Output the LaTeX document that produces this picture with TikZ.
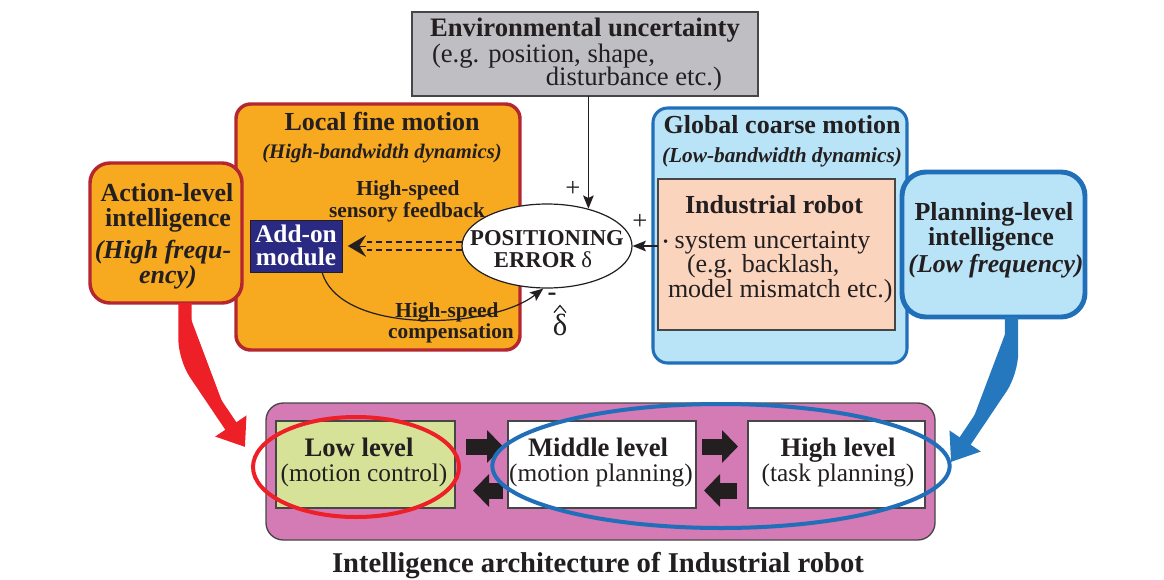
\documentclass[tikz,border=0pt]{standalone}
\usepackage{fontspec}
\setmainfont{Liberation Serif}
\usetikzlibrary{arrows.meta,fit,shapes.geometric,calc}
\newcommand\fsz[1]{\fontsize{#1}{#1}\selectfont}
\definecolor{orangefill}{RGB}{247,169,32}
\definecolor{darkred}{RGB}{180,38,48}
\definecolor{lightblue}{RGB}{185,227,247}
\definecolor{midblue}{RGB}{33,111,185}
\definecolor{peach}{RGB}{251,212,190}
\definecolor{grayfill}{RGB}{190,190,195}
\definecolor{purplefill}{RGB}{212,122,180}
\definecolor{greenfill}{RGB}{214,226,152}
\definecolor{navy}{RGB}{42,42,130}
\definecolor{redarrow}{RGB}{236,32,38}
\definecolor{bluearrow}{RGB}{38,120,190}
\definecolor{textcol}{RGB}{35,31,32}
\definecolor{edgegray}{RGB}{70,70,70}
\begin{document}
\begin{tikzpicture}[x=0.75pt,y=-0.75pt,
  every node/.style={text=textcol},
  txt/.style={anchor=base, inner sep=0, outer sep=0},
  bxt/.style={txt, font=\bfseries\fsz{19}},
  rgt/.style={txt, font=\fsz{19.5}},
  bit/.style={txt, font=\bfseries\itshape\fsz{19}},
  boxfit/.style={inner sep=0, outer sep=0},
  thinarrow/.style={draw=textcol, line width=0.9pt, -{Stealth[length=10pt,width=8pt,inset=2pt]}},
  dashline/.style={draw=textcol, line width=0.9pt, dash pattern=on 4.5pt off 3pt},
  blk/.style={draw=textcol, line width=12pt, -{Triangle[length=12pt,width=24pt]}},
  bigarrow/.style={line width=10pt, rounded corners=14pt, -{Triangle[length=19pt,width=27pt]}}
]
\useasboundingbox (0,0) rectangle (1164,579);

% environmental uncertainty
\node[boxfit, fit={(412,12)(758,96)}, draw=edgegray, line width=1pt, fill=grayfill] (env) {};
\node[bxt, font=\bfseries\fsz{20}] (envt) at (585,36) {Environmental uncertainty};
\node[txt, anchor=base west, font=\fsz{20}] (enva) at (432,62) {(e.g. position, shape,};
\node[txt, anchor=base east, font=\fsz{20}] (envb) at (722,85) {disturbance etc.)};

% local fine motion
\node[boxfit, fit={(236,104)(520,350)}, draw=darkred, line width=2.6pt, fill=orangefill, rounded corners=11pt] (local) {};
\node[bxt, font=\bfseries\fsz{19.5}] (localt) at (382,130) {Local fine motion};
\node[bit, font=\bfseries\itshape\fsz{15.5}] (locals) at (382,158) {(High-bandwidth dynamics)};
\node[bxt, font=\bfseries\fsz{16}] (hs1) at (408,195) {High-speed};
\node[bxt, font=\bfseries\fsz{16}] (hs2) at (407,217) {sensory feedback};
\node[bxt, font=\bfseries\fsz{16}] (hc1) at (447,317) {High-speed};
\node[bxt, font=\bfseries\fsz{16}] (hc2) at (451,338) {compensation};

% action-level
\node[boxfit, fit={(90,163)(242,303)}, draw=darkred, line width=2.6pt, fill=orangefill, rounded corners=15pt] (action) {};
\node[bxt, font=\bfseries\fsz{19.5}] (act1) at (167,201) {Action-level};
\node[bxt, font=\bfseries\fsz{19.5}] (act2) at (168,226) {intelligence};
\node[bit, font=\bfseries\itshape\fsz{19.5}] (act3) at (163,258) {(High frequ-};
\node[bit, font=\bfseries\itshape\fsz{19.5}] (act4) at (168,283) {ency)};

% add-on module
\node[boxfit, fit={(250,220)(342,272)}, draw=textcol, line width=0.6pt, fill=navy] (addon) {};
\node[bxt, text=white, font=\bfseries\fsz{19}] (add1) at (296,242) {Add-on};
\node[bxt, text=white, font=\bfseries\fsz{19}] (add2) at (296,265) {module};

% global coarse motion
\node[boxfit, fit={(653,108)(907,363)}, draw=midblue, line width=2.3pt, fill=lightblue, rounded corners=11pt] (global) {};
\node[bxt, font=\bfseries\fsz{19.5}] (globt) at (782,133) {Global coarse motion};
\node[bit, font=\bfseries\itshape\fsz{16}] (globs) at (782,162) {(Low-bandwidth dynamics)};
\node[boxfit, fit={(658,179)(895,330)}, draw=edgegray, line width=0.9pt, fill=peach] (robot) {};
\node[bxt, font=\bfseries\fsz{19.5}] (robt) at (774,213) {Industrial robot};
\node[rgt, anchor=base west] (rob1) at (663,248) {\raisebox{1.5pt}{\fsz{11}•} system uncertainty};
\node[rgt, anchor=base west] (rob2) at (687,272) {(e.g. backlash,};
\node[rgt, anchor=base west] (rob3) at (668,297) {model mismatch etc.)};

% planning-level
\node[boxfit, fit={(902,172)(1085,317)}, draw=midblue, line width=3.7pt, fill=lightblue, rounded corners=18pt] (plan) {};
\node[bxt, font=\bfseries\fsz{19.5}] (pl1) at (994,220) {Planning-level};
\node[bxt, font=\bfseries\fsz{19.5}] (pl2) at (991,245) {intelligence};
\node[bit, font=\bfseries\itshape\fsz{19.3}] (pl3) at (996,272) {(Low frequency)};

% positioning error
\node[ellipse, draw=textcol, line width=0.9pt, fill=white, inner sep=0, minimum width=127.5pt, minimum height=63pt] (pos) at (547,246) {};
\node[bxt, font=\bfseries\fsz{17}] (pos1) at (547,245) {POSITIONING};
\node[bxt, font=\bfseries\fsz{17}] (pos2) at (543,267) {ERROR {\mdseries δ}};

% connectors around the ellipse
\draw[thinarrow] (env.south -| pos.42) -- (pos.42);
\node[txt, font=\fsz{20}] (plus1) at (573,196) {+};
\draw[thinarrow] (robot.west |- pos.east) -- (pos.east);
\node[txt, font=\fsz{20}] (plus2) at (640,229) {+};
\draw[dashline] ($(pos.west)+(1,-4)$) -- ($(addon.east)+(25,-4)$);
\draw[dashline] ($(pos.west)+(1,4)$) -- ($(addon.east)+(25,4)$);
\draw[draw=textcol, fill=textcol, line width=0.1pt, -{Stealth[length=13.5pt,width=16pt,inset=5pt]}] ($(addon.east)+(24,0)$) -- ($(addon.east)+(6,0)$);
\draw[thinarrow] ($(addon.south)+(26,0)$) .. controls (340,335) and (490,330) .. (pos.265);
\node[txt, font=\bfseries\fsz{20}] (minus) at (552,300) {-};
\node[txt, font=\fsz{23}] (dhat) at (560,335) {δ};
\draw[draw=textcol, line width=0.9pt] ($(dhat.north)+(-6,-1)$) -- ($(dhat.north)+(0,-8)$) -- ($(dhat.north)+(6,-1)$);

% intelligence architecture
\node[boxfit, fit={(266,403)(935,540)}, draw=edgegray, line width=1pt, fill=purplefill, rounded corners=13pt] (arch) {};
\node[boxfit, fit={(276,421)(455,508)}, draw=edgegray, line width=1pt, fill=greenfill] (low) {};
\node[boxfit, fit={(508,421)(696,508)}, draw=edgegray, line width=1pt, fill=white] (mid) {};
\node[boxfit, fit={(748,421)(925,508)}, draw=edgegray, line width=1pt, fill=white] (high) {};
\node[bxt, font=\bfseries\fsz{20}] (low1) at (359,456) {Low level};
\node[rgt, font=\fsz{19}] (low2) at (364,481) {(motion control)};
\node[bxt, font=\bfseries\fsz{20}] (mid1) at (598,456) {Middle level};
\node[rgt, font=\fsz{19}] (mid2) at (601,481) {(motion planning)};
\node[bxt, font=\bfseries\fsz{20}] (high1) at (838,456) {High level};
\node[rgt, font=\fsz{19}] (high2) at (838,481) {(task planning)};

\draw[blk] ($(low.east)+(11,-18)$) -- ($(mid.west)+(-5,-18)$);
\draw[blk] ($(mid.west)+(-5,26)$) -- ($(low.east)+(18,26)$);
\draw[blk] ($(mid.east)+(6,-18)$) -- ($(high.west)+(-10,-18)$);
\draw[blk] ($(high.west)+(-11,26)$) -- ($(mid.east)+(8,26)$);

\node[ellipse, draw=redarrow, line width=3pt, inner sep=0, minimum width=154.5pt, minimum height=75pt] (redell) at (356,467) {};
\node[ellipse, draw=midblue, line width=3pt, inner sep=0, minimum width=343pt, minimum height=93pt] (blueell) at (721,466) {};

% big arrows
\coordinate (redtip) at (245,447);
\coordinate (bluetip) at (951,462);
\draw[bigarrow, draw=redarrow, fill=redarrow] ($(action.south)+(19,0)$) -- ($(action.south)+(19,55)$) -- (redtip);
\draw[bigarrow, draw=bluearrow, fill=bluearrow] ($(plan.south)+(18,0)$) -- ($(plan.south)+(18,55)$) -- (bluetip);

\node[bxt, font=\bfseries\fsz{21.5}] (caption) at (598,572) {Intelligence architecture of Industrial robot};
\end{tikzpicture}
\end{document}
